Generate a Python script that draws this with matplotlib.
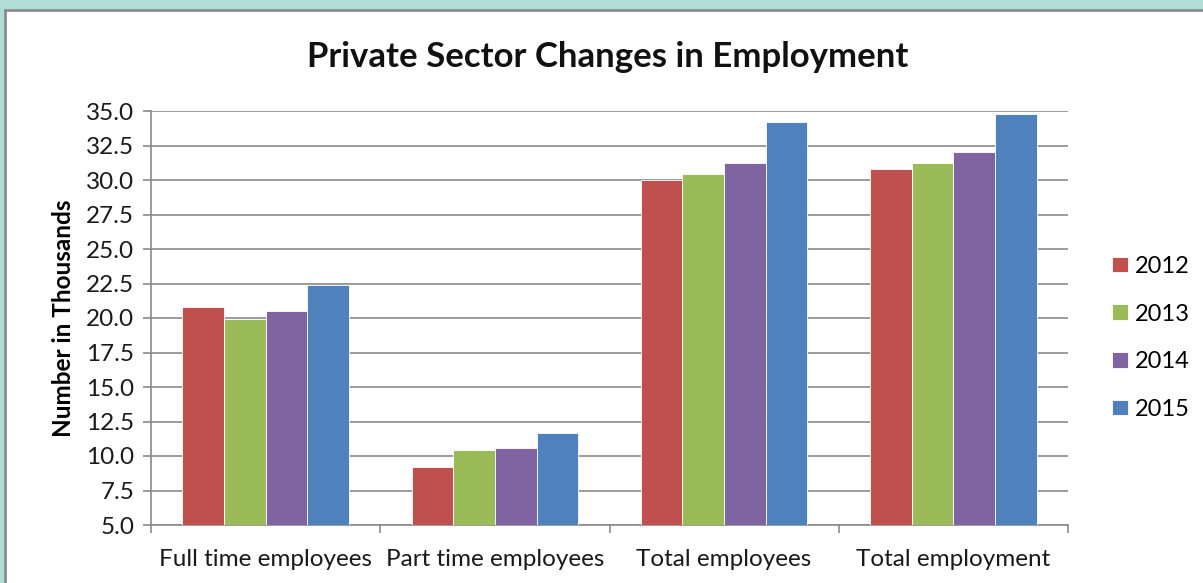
import numpy as np
import matplotlib.pyplot as plt
from matplotlib.patches import Rectangle

categories = ["Full time employees", "Part time employees", "Total employees", "Total employment"]
years = ["2012", "2013", "2014", "2015"]
v2012 = [20.8, 9.2, 30.0, 30.8]
v2013 = [19.9, 10.4, 30.4, 31.2]
v2014 = [20.5, 10.6, 31.2, 32.0]
v2015 = [22.4, 11.7, 34.2, 34.8]
colors = ["#c0504d", "#9bbb59", "#8064a2", "#4f81bd"]

plt.rcParams['font.family'] = ['Lato', 'DejaVu Sans']

W, H = 1203, 583
fig = plt.figure(figsize=(W / 100, H / 100), dpi=100)
fig.patch.set_facecolor("#b3ded8")
# white chart area with gray frame
frame = Rectangle((5 / W, -0.1), 1.1, 1.1 - 10 / H, transform=fig.transFigure,
                  facecolor="white", edgecolor="#8c8c8c", linewidth=2, zorder=-10)
fig.patches.append(frame)

ax = fig.add_axes([151 / W, 1 - 525 / H, (1068 - 151) / W, (525 - 111) / H])
ax.set_zorder(5)
ax.set_facecolor("none")

x = np.arange(len(categories))
bw = 1 / 5.5
series = [v2012, v2013, v2014, v2015]
for i, vals in enumerate(series):
    ax.bar(x + (i - 1.5) * bw, np.array(vals) - 5, bottom=5, width=bw, color=colors[i],
           edgecolor="white", linewidth=0.6, label=years[i], zorder=3)

fs = 17.5
ax.set_xlim(-0.5, len(categories) - 0.5)
ax.set_ylim(5, 35)
ax.set_yticks(np.arange(5, 35.1, 2.5))
ax.set_yticklabels([f"{v:.1f}" for v in np.arange(5, 35.1, 2.5)], fontsize=fs, color="#1a1a1a")
ax.yaxis.grid(True, color="#8a8a8a", linewidth=1.2, zorder=1)
ax.set_axisbelow(True)

ax.set_xticks(x)
ax.set_xticklabels(categories, fontsize=fs, color="#1a1a1a")
ax.set_xticks(np.arange(-0.5, len(categories)), minor=True)
ax.tick_params(axis='x', which='major', length=0, pad=17)
ax.tick_params(axis='x', which='minor', length=6, color="#8a8a8a", width=1.2)
ax.tick_params(axis='y', length=6, color="#8a8a8a", width=1.2, pad=6)

for s in ["top", "right"]:
    ax.spines[s].set_visible(False)
for s in ["left", "bottom"]:
    ax.spines[s].set_color("#8a8a8a")
    ax.spines[s].set_linewidth(1.2)

ax.set_ylabel("Number in Thousands", fontsize=fs, fontweight="bold", labelpad=8)
fig.text(608 / W, 1 - 57 / H, "Private Sector Changes in Employment", ha="center", va="center",
         fontsize=25, fontweight="bold", color="#111111")

leg = ax.legend(loc="center left", bbox_to_anchor=(1.025, 0.452), frameon=False, fontsize=17,
                handlelength=0.65, handleheight=0.65, labelspacing=1.13, handletextpad=0.3)

fig.savefig("out.png", dpi=100, facecolor=fig.get_facecolor())
